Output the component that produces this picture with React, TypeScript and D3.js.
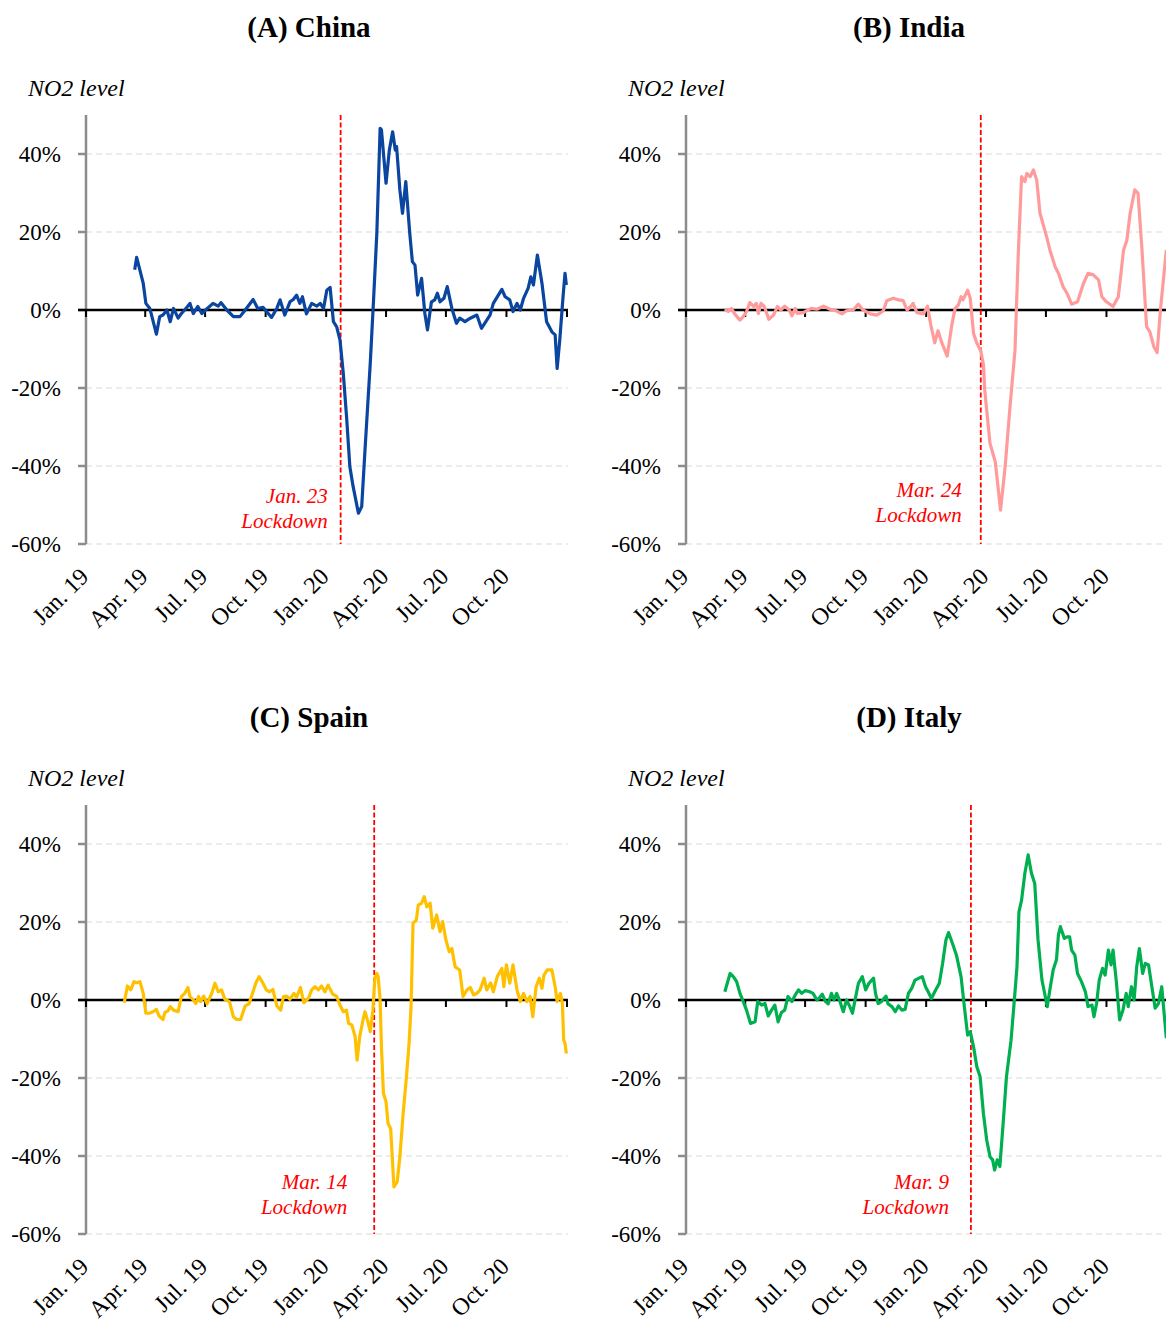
import React from "react";
import * as d3 from "d3";

// quarterly labels under each panel
const xLabels = ["Jan. 19", "Apr. 19", "Jul. 19", "Oct. 19", "Jan. 20", "Apr. 20", "Jul. 20", "Oct. 20"];
const yTicks = [-60, -40, -20, 0, 20, 40];

// NO2 level, % change
const china: [string, number][] = [
  ["2019-03-16", 10.3], ["2019-03-19", 13.5], ["2019-03-29", 6.8], ["2019-04-02", 1.7], ["2019-04-08", 0.4],
  ["2019-04-18", -6.2], ["2019-04-23", -1.7], ["2019-04-28", -1.3], ["2019-05-04", 0], ["2019-05-09", -3],
  ["2019-05-14", 0.4], ["2019-05-21", -2.1], ["2019-05-26", -0.9], ["2019-05-31", 0], ["2019-06-08", 1.7],
  ["2019-06-13", -0.9], ["2019-06-20", 0.9], ["2019-06-26", -0.9], ["2019-07-03", 0.2], ["2019-07-13", 1.7],
  ["2019-07-21", 1.0], ["2019-07-25", 1.9], ["2019-08-03", 0], ["2019-08-13", -1.7], ["2019-08-23", -1.7],
  ["2019-08-31", 0], ["2019-09-04", 0.9], ["2019-09-12", 2.7], ["2019-09-19", 0.4], ["2019-09-27", 0.7],
  ["2019-10-10", -1.9], ["2019-10-18", 0.4], ["2019-10-23", 2.6], ["2019-10-30", -1.3], ["2019-11-07", 2.1],
  ["2019-11-12", 2.7], ["2019-11-17", 3.8], ["2019-11-22", 1.7], ["2019-11-26", 3.4], ["2019-12-02", -1],
  ["2019-12-10", 1.7], ["2019-12-18", 1.0], ["2019-12-23", 1.7], ["2019-12-28", 0.4], ["2020-01-02", 5.1],
  ["2020-01-07", 5.8], ["2020-01-12", -3], ["2020-01-17", -4.3], ["2020-01-22", -7.7], ["2020-01-27", -16.2],
  ["2020-02-01", -27.4], ["2020-02-06", -40.2], ["2020-02-11", -45.3], ["2020-02-19", -52.1], ["2020-02-24", -50.4],
  ["2020-02-29", -35.9], ["2020-03-08", -13.7], ["2020-03-13", 2.6], ["2020-03-18", 19.7], ["2020-03-23", 46.6],
  ["2020-03-25", 46.2], ["2020-04-01", 32.5], ["2020-04-06", 41], ["2020-04-11", 45.7], ["2020-04-15", 41],
  ["2020-04-17", 41.9], ["2020-04-22", 30.8], ["2020-04-26", 24.8], ["2020-05-01", 32.9], ["2020-05-07", 19.7],
  ["2020-05-11", 12.4], ["2020-05-15", 11.5], ["2020-05-19", 3.8], ["2020-05-25", 8.1], ["2020-05-30", -0.9],
  ["2020-06-03", -5.1], ["2020-06-09", 2.1], ["2020-06-14", 2.6], ["2020-06-18", 4.3], ["2020-06-22", 2.1],
  ["2020-06-28", 3.0], ["2020-07-03", 6], ["2020-07-10", 0.4], ["2020-07-17", -3.4], ["2020-07-22", -2.1],
  ["2020-07-30", -3], ["2020-08-07", -2.1], ["2020-08-17", -1.3], ["2020-08-24", -4.7], ["2020-09-06", -1.3],
  ["2020-09-11", 1.7], ["2020-09-24", 5.3], ["2020-09-29", 3.4], ["2020-10-06", 2.6], ["2020-10-11", -0.4],
  ["2020-10-17", 1.7], ["2020-10-22", 0], ["2020-10-27", 3], ["2020-11-03", 5.6], ["2020-11-07", 8.5],
  ["2020-11-11", 6.4], ["2020-11-17", 14.1], ["2020-11-24", 6.8], ["2020-12-01", -3], ["2020-12-09", -5.6],
  ["2020-12-14", -6.4], ["2020-12-17", -15], ["2020-12-21", -7.7], ["2020-12-26", 3.4], ["2020-12-29", 9.4],
  ["2020-12-31", 6.4],
];

const india: [string, number][] = [
  ["2019-03-01", 0.2], ["2019-03-06", -0.4], ["2019-03-11", 0.4], ["2019-03-16", -1], ["2019-03-24", -2.6],
  ["2019-03-29", -1.7], ["2019-04-03", -0.4], ["2019-04-08", 1.9], ["2019-04-14", 0.9], ["2019-04-18", 1.7],
  ["2019-04-21", -0.9], ["2019-04-25", 1.7], ["2019-04-30", 0.9], ["2019-05-07", -2.4], ["2019-05-14", -1.3],
  ["2019-05-20", 0.9], ["2019-05-25", 0], ["2019-05-31", 1], ["2019-06-07", 0], ["2019-06-11", -1.5],
  ["2019-06-16", 0.4], ["2019-06-19", -0.9], ["2019-06-28", -0.7], ["2019-07-10", 0.4], ["2019-07-19", 0.2],
  ["2019-07-29", 1], ["2019-08-08", 0.2], ["2019-08-17", -0.2], ["2019-08-26", -1], ["2019-09-02", -0.2],
  ["2019-09-12", 0], ["2019-09-20", 1.5], ["2019-09-27", 0], ["2019-10-08", -1], ["2019-10-18", -1.3],
  ["2019-10-28", -0.2], ["2019-11-02", 2.4], ["2019-11-12", 3], ["2019-11-20", 2.6], ["2019-11-27", 2.4],
  ["2019-12-03", 0], ["2019-12-09", 1], ["2019-12-12", 1.7], ["2019-12-18", -0.7], ["2019-12-28", -1],
  ["2020-01-03", 1], ["2020-01-08", -3.8], ["2020-01-14", -8.4], ["2020-01-19", -5.3], ["2020-01-25", -8.5],
  ["2020-02-02", -11.8], ["2020-02-09", -3.8], ["2020-02-14", 0.4], ["2020-02-19", 1.3], ["2020-02-23", 3.4],
  ["2020-02-26", 2.6], ["2020-03-04", 5.1], ["2020-03-08", 3], ["2020-03-13", -6], ["2020-03-18", -8.5],
  ["2020-03-24", -10.5], ["2020-03-28", -14], ["2020-03-30", -20.5], ["2020-04-07", -34.2], ["2020-04-15", -38.9],
  ["2020-04-23", -51.3], ["2020-04-30", -40.2], ["2020-05-07", -25.6], ["2020-05-15", -10.3], ["2020-05-20", 14.5],
  ["2020-05-25", 34.2], ["2020-05-30", 32.9], ["2020-06-02", 35], ["2020-06-07", 34.2], ["2020-06-12", 35.9],
  ["2020-06-17", 33.3], ["2020-06-22", 24.8], ["2020-06-27", 21.8], ["2020-07-02", 18.8], ["2020-07-07", 15.4],
  ["2020-07-15", 11.1], ["2020-07-20", 9.4], ["2020-07-27", 6], ["2020-08-02", 4.3], ["2020-08-09", 1.5],
  ["2020-08-18", 2.1], ["2020-08-27", 6.8], ["2020-09-03", 9.4], ["2020-09-11", 9], ["2020-09-19", 7.7],
  ["2020-09-24", 3.4], ["2020-10-01", 2.1], ["2020-10-11", 0.9], ["2020-10-19", 3.4], ["2020-10-27", 15.4],
  ["2020-11-01", 17.9], ["2020-11-06", 24.8], ["2020-11-13", 30.8], ["2020-11-18", 29.9], ["2020-11-24", 15.4],
  ["2020-12-01", -4.3], ["2020-12-06", -5.6], ["2020-12-12", -9.4], ["2020-12-17", -10.9], ["2020-12-22", 0],
  ["2020-12-26", 6.8], ["2020-12-31", 15.4],
];

const spain: [string, number][] = [
  ["2019-02-28", -0.7], ["2019-03-05", 3.6], ["2019-03-10", 2.6], ["2019-03-15", 4.7], ["2019-03-19", 4.4],
  ["2019-03-24", 4.7], ["2019-03-29", 1.7], ["2019-04-02", -3.4], ["2019-04-07", -3.4], ["2019-04-13", -3],
  ["2019-04-18", -2.4], ["2019-04-22", -4.1], ["2019-04-28", -5], ["2019-05-01", -3.2], ["2019-05-06", -2.7],
  ["2019-05-09", -1.7], ["2019-05-14", -2.6], ["2019-05-21", -3], ["2019-05-26", 0.9], ["2019-05-31", 1.7],
  ["2019-06-05", 3.2], ["2019-06-08", 0.9], ["2019-06-13", 0], ["2019-06-17", -0.9], ["2019-06-21", 0.9],
  ["2019-06-24", -0.4], ["2019-06-29", 1], ["2019-07-04", -1], ["2019-07-11", 1.7], ["2019-07-16", 4.3],
  ["2019-07-21", 2.1], ["2019-07-26", 2.6], ["2019-07-31", 0.2], ["2019-08-07", -0.4], ["2019-08-13", -4.3],
  ["2019-08-18", -5], ["2019-08-24", -5], ["2019-08-31", -1.5], ["2019-09-06", -0.9], ["2019-09-11", 1.7],
  ["2019-09-16", 4.3], ["2019-09-21", 6], ["2019-09-27", 4.3], ["2019-10-02", 2.6], ["2019-10-07", 2.1],
  ["2019-10-12", 2.7], ["2019-10-18", -1.5], ["2019-10-24", -2.6], ["2019-10-28", 0.9], ["2019-11-02", 1],
  ["2019-11-07", 0.2], ["2019-11-13", 1.7], ["2019-11-17", 0.7], ["2019-11-23", 3.2], ["2019-11-28", -0.7],
  ["2019-12-05", 0.4], ["2019-12-10", 2.6], ["2019-12-15", 3.4], ["2019-12-20", 2.6], ["2019-12-25", 3.6],
  ["2019-12-30", 2.1], ["2020-01-04", 3.8], ["2020-01-11", 1.5], ["2020-01-17", 0.9], ["2020-01-22", -1.3],
  ["2020-01-27", -3], ["2020-02-01", -2.6], ["2020-02-04", -6], ["2020-02-09", -6.4], ["2020-02-14", -9.4],
  ["2020-02-17", -15.4], ["2020-02-21", -9.4], ["2020-02-26", -5.1], ["2020-02-29", -3], ["2020-03-04", -5.3],
  ["2020-03-08", -8.1], ["2020-03-12", -2.6], ["2020-03-15", 5.6], ["2020-03-18", 6.8], ["2020-03-20", 6],
  ["2020-03-23", 0], ["2020-03-25", -12], ["2020-03-28", -23.9], ["2020-04-01", -26.1], ["2020-04-04", -31.6],
  ["2020-04-08", -33], ["2020-04-13", -47.9], ["2020-04-18", -46.6], ["2020-04-22", -40.2], ["2020-04-27", -29.1],
  ["2020-05-02", -19.7], ["2020-05-06", -11.1], ["2020-05-09", -1.7], ["2020-05-12", 19.7], ["2020-05-17", 20.5],
  ["2020-05-20", 24.4], ["2020-05-25", 24.8], ["2020-05-29", 26.5], ["2020-06-02", 23.9], ["2020-06-07", 24.8],
  ["2020-06-11", 18.4], ["2020-06-17", 21.8], ["2020-06-22", 17.5], ["2020-06-26", 20.1], ["2020-07-01", 15.4],
  ["2020-07-06", 12.4], ["2020-07-10", 13.2], ["2020-07-15", 8.5], ["2020-07-22", 7.7], ["2020-07-27", 0.9],
  ["2020-08-02", 2.6], ["2020-08-07", 3.2], ["2020-08-12", 1.3], ["2020-08-17", 1.7], ["2020-08-22", 2.6],
  ["2020-08-28", 5.6], ["2020-09-01", 2.6], ["2020-09-07", 4.4], ["2020-09-11", 2.1], ["2020-09-17", 6],
  ["2020-09-24", 8.1], ["2020-09-27", 3.4], ["2020-10-01", 9], ["2020-10-06", 4.3], ["2020-10-11", 9],
  ["2020-10-17", 2.6], ["2020-10-22", -0.4], ["2020-10-27", 1.7], ["2020-11-01", -0.4], ["2020-11-06", 0.9],
  ["2020-11-10", -4.3], ["2020-11-15", 3.4], ["2020-11-20", 5.6], ["2020-11-24", 3], ["2020-11-27", 6.4],
  ["2020-12-02", 7.7], ["2020-12-09", 7.7], ["2020-12-14", 3.4], ["2020-12-17", -0.4], ["2020-12-22", 1.7],
  ["2020-12-25", -0.9], ["2020-12-27", -10.3], ["2020-12-29", -11.1], ["2020-12-31", -13.7],
];

const italy: [string, number][] = [
  ["2019-03-01", 2.1], ["2019-03-09", 6.8], ["2019-03-14", 6], ["2019-03-19", 4.7], ["2019-03-24", 1.7],
  ["2019-03-29", -0.4], ["2019-04-03", -2.6], ["2019-04-09", -6], ["2019-04-16", -5.6], ["2019-04-20", -0.4],
  ["2019-04-26", -1.3], ["2019-05-01", -0.9], ["2019-05-06", -4.1], ["2019-05-11", -2.6], ["2019-05-16", -1.3],
  ["2019-05-21", -5.6], ["2019-05-26", -3.2], ["2019-05-31", -2.6], ["2019-06-05", 0.9], ["2019-06-11", -0.4],
  ["2019-06-16", 1.3], ["2019-06-21", 2.6], ["2019-06-26", 1.7], ["2019-07-01", 2.4], ["2019-07-08", 2.1],
  ["2019-07-13", 1.7], ["2019-07-19", 0], ["2019-07-22", 0.4], ["2019-07-27", 1.5], ["2019-08-01", -0.4],
  ["2019-08-05", -1], ["2019-08-10", 1.7], ["2019-08-14", 0], ["2019-08-18", 1.7], ["2019-08-23", -0.4],
  ["2019-08-28", -3], ["2019-09-02", 0], ["2019-09-07", -1.7], ["2019-09-11", -3.4], ["2019-09-16", 0.9],
  ["2019-09-20", 4.3], ["2019-09-26", 6], ["2019-10-01", 2.6], ["2019-10-06", 4.3], ["2019-10-13", 5.6],
  ["2019-10-16", 1.7], ["2019-10-20", -0.9], ["2019-10-25", -0.4], ["2019-11-01", 1], ["2019-11-04", -1],
  ["2019-11-10", -1.7], ["2019-11-15", -3], ["2019-11-20", -1.5], ["2019-11-25", -2.6], ["2019-11-30", -2.4],
  ["2019-12-05", 1.7], ["2019-12-10", 3], ["2019-12-15", 5.1], ["2019-12-21", 5.6], ["2019-12-26", 6],
  ["2019-12-31", 3.4], ["2020-01-04", 2.1], ["2020-01-09", 0.4], ["2020-01-14", 2.1], ["2020-01-21", 4.3],
  ["2020-01-26", 9.4], ["2020-01-31", 15.4], ["2020-02-04", 17.3], ["2020-02-10", 14.5], ["2020-02-16", 11.5],
  ["2020-02-23", 6], ["2020-02-28", -1.7], ["2020-03-04", -9], ["2020-03-08", -8.1], ["2020-03-13", -12],
  ["2020-03-18", -17.1], ["2020-03-23", -19.7], ["2020-03-28", -29.1], ["2020-04-02", -35.9], ["2020-04-07", -40.2],
  ["2020-04-11", -41], ["2020-04-14", -43.6], ["2020-04-18", -41], ["2020-04-22", -42.7], ["2020-04-27", -31.6],
  ["2020-05-02", -19.7], ["2020-05-09", -10.3], ["2020-05-14", 0], ["2020-05-18", 8.5], ["2020-05-21", 22.6],
  ["2020-05-25", 25.6], ["2020-05-30", 32.5], ["2020-06-04", 37.2], ["2020-06-09", 32.5], ["2020-06-14", 29.9],
  ["2020-06-19", 15.4], ["2020-06-25", 5.1], ["2020-06-30", 0.9], ["2020-07-03", -1.7], ["2020-07-07", 2.6],
  ["2020-07-12", 7.7], ["2020-07-17", 10.3], ["2020-07-20", 16.7], ["2020-07-23", 18.8], ["2020-07-29", 15.8],
  ["2020-08-02", 16.2], ["2020-08-06", 16.2], ["2020-08-09", 12.8], ["2020-08-14", 11.5], ["2020-08-18", 6.8],
  ["2020-08-24", 4.7], ["2020-08-30", 2.1], ["2020-09-03", -1.7], ["2020-09-09", -1.3], ["2020-09-12", -4.3],
  ["2020-09-16", -0.9], ["2020-09-20", 5.1], ["2020-09-25", 8.1], ["2020-09-29", 6.4], ["2020-10-04", 12.8],
  ["2020-10-08", 9], ["2020-10-11", 12.8], ["2020-10-16", 4.7], ["2020-10-21", -5.1], ["2020-10-26", -2.6],
  ["2020-10-31", 1.7], ["2020-11-03", -1.7], ["2020-11-08", 3.4], ["2020-11-12", 0], ["2020-11-16", 8.5],
  ["2020-11-20", 13.2], ["2020-11-25", 6.8], ["2020-11-29", 9.4], ["2020-12-04", 9], ["2020-12-09", 3.4],
  ["2020-12-14", -2.1], ["2020-12-19", -0.9], ["2020-12-24", 3.4], ["2020-12-31", -9.8],
];

const parse = d3.timeParse("%Y-%m-%d");
const FONT = "'Liberation Serif', 'Times New Roman', serif";

const panels = [
  { title: "(A) China", data: china, color: "#0a46a0", lockdown: "2020-01-23", note: "Jan. 23", ox: 0, oy: 0, noteDx: -13, noteY: 503 },
  { title: "(B) India", data: india, color: "#ff9b9b", lockdown: "2020-03-24", note: "Mar. 24", ox: 600, oy: 0, noteDx: -19, noteY: 497 },
  { title: "(C) Spain", data: spain, color: "#ffc000", lockdown: "2020-03-14", note: "Mar. 14", ox: 0, oy: 690, noteDx: -27, noteY: 499 },
  { title: "(D) Italy", data: italy, color: "#00b050", lockdown: "2020-03-09", note: "Mar. 9", ox: 600, oy: 690, noteDx: -22, noteY: 499 },
];

function Panel({ p }: { p: (typeof panels)[number] }) {
  const x = d3.scaleTime()
    .domain([parse("2019-01-01")!, parse("2021-01-01")!])
    .range([86, 567]);
  const y = d3.scaleLinear().domain([-60, 50]).range([544, 115]);
  const line = d3.line<[string, number]>()
    .x(d => x(parse(d[0])!))
    .y(d => y(d[1]));
  const lx = x(parse(p.lockdown)!);
  const quarters = x.ticks(d3.timeMonth.every(3)!);

  return (
    <g transform={`translate(${p.ox},${p.oy})`}>
      <text x={309} y={37} textAnchor="middle" fontFamily={FONT} fontWeight="bold" fontSize={29}>{p.title}</text>
      <text x={28} y={96} fontFamily={FONT} fontStyle="italic" fontSize={24}>NO2 level</text>

      {yTicks.filter(t => t !== 0).map(t => (
        <line key={t} x1={86} x2={568} y1={y(t)} y2={y(t)} stroke="#d9d9d9" strokeWidth={1.2} strokeDasharray="6,4" />
      ))}
      <line x1={86} x2={86} y1={y(50)} y2={y(-60)} stroke="#8c8c8c" strokeWidth={2.5} />
      {yTicks.map(t => (
        <g key={t}>
          <line x1={78} x2={86} y1={y(t)} y2={y(t)} stroke="#8c8c8c" strokeWidth={2.5} />
          <text x={61} y={y(t) + 8} textAnchor="end" fontFamily={FONT} fontSize={23}>{`${t}%`}</text>
        </g>
      ))}
      <line x1={78} x2={568} y1={y(0)} y2={y(0)} stroke="#000" strokeWidth={2.5} />
      {quarters.map(q => (
        <line key={+q} x1={x(q)} x2={x(q)} y1={y(0)} y2={y(0) + 7} stroke="#000" strokeWidth={2} />
      ))}
      {xLabels.map((l, i) => (
        <text key={l} transform={`translate(${x(quarters[i]) + 4},578) rotate(-45)`} textAnchor="end" fontFamily={FONT} fontSize={24}>{l}</text>
      ))}

      <line x1={lx} x2={lx} y1={y(50)} y2={y(-60)} stroke="#ff0000" strokeWidth={1.8} strokeDasharray="5,2.5" />
      <text x={lx + p.noteDx} y={p.noteY} textAnchor="end" fill="#ff0000" fontFamily={FONT} fontStyle="italic" fontSize={21}>{p.note}</text>
      <text x={lx + p.noteDx} y={p.noteY + 25} textAnchor="end" fill="#ff0000" fontFamily={FONT} fontStyle="italic" fontSize={21}>Lockdown</text>

      <path d={line(p.data) ?? ""} fill="none" stroke={p.color} strokeWidth={3.2} strokeLinejoin="round" />
    </g>
  );
}

export default function App() {
  return (
    <svg width={1166} height={1322} style={{ position: "absolute", left: 0, top: 0, background: "#fff" }}>
      {panels.map(p => <Panel key={p.title} p={p} />)}
    </svg>
  );
}
